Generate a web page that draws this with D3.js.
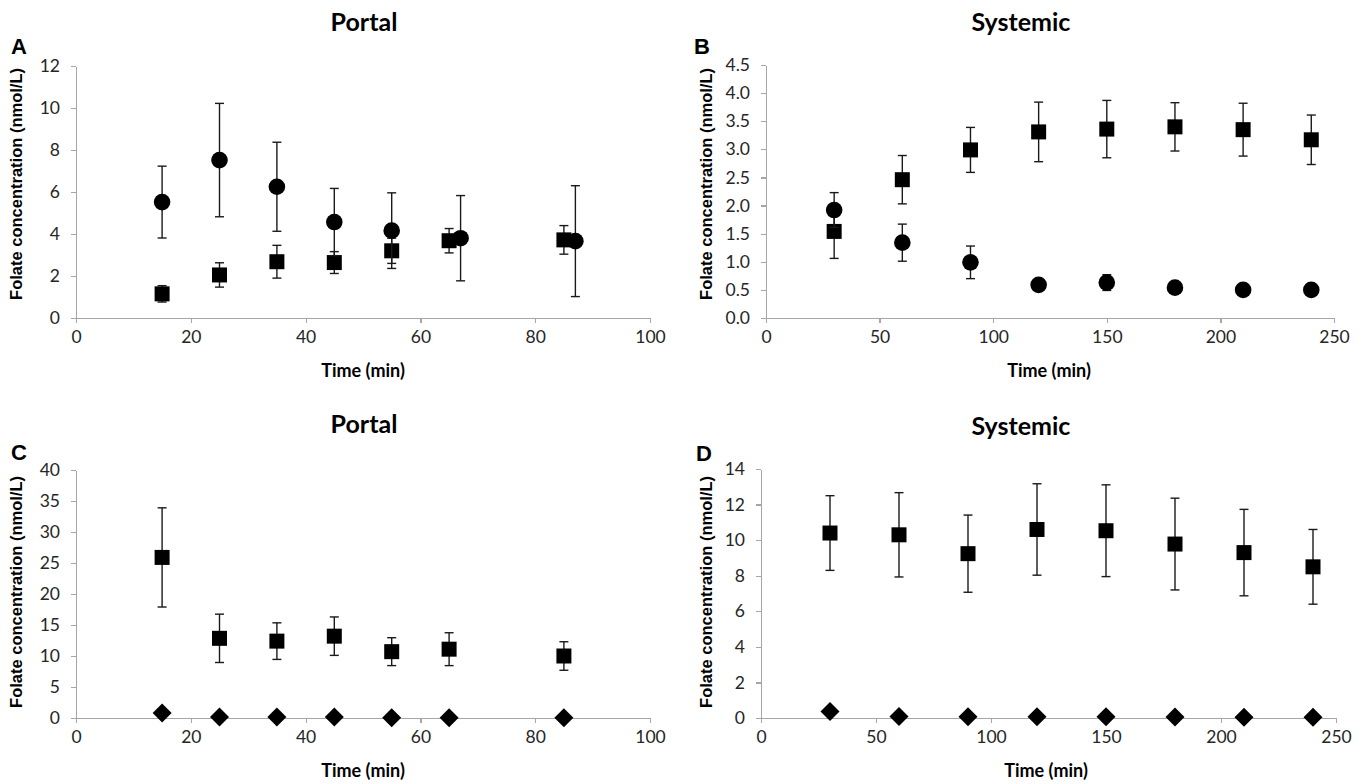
<!DOCTYPE html>
<html>
<head>
<meta charset="utf-8">
<script src="https://cdn.jsdelivr.net/npm/d3@7"></script>
<style>
  html, body { margin: 0; padding: 0; background: #fff; }
  svg { display: block; }
  .tick text { font-family: Lato, "Open Sans", sans-serif; font-size: 17.5px; fill: #262626; }
  .axis path, .axis line { stroke: #a6a6a6; stroke-width: 1.2px; shape-rendering: crispEdges; }
</style>
</head>
<body>
<svg id="chart" width="1366" height="784"></svg>
<script>
// ---------------- DATA ----------------
// Panel A (Portal): circles and squares
const aCircleTime = [15, 25, 35, 45, 55, 67, 87];
const aCircleMean = [5.52, 7.52, 6.25, 4.57, 4.16, 3.80, 3.66];
const aCircleErr  = [1.71, 2.70, 2.12, 1.60, 1.80, 2.03, 2.64];
const aSquareTime = [15, 25, 35, 45, 55, 65, 85];
const aSquareMean = [1.15, 2.05, 2.68, 2.64, 3.20, 3.68, 3.72];
const aSquareErr  = [0.39, 0.58, 0.78, 0.52, 0.60, 0.58, 0.68];

// Panel B (Systemic): circles and squares
const bTime       = [30, 60, 90, 120, 150, 180, 210, 240];
const bCircleMean = [1.92, 1.34, 0.99, 0.59, 0.63, 0.54, 0.50, 0.50];
const bCircleErr  = [0.31, 0.33, 0.29, 0.08, 0.14, 0.06, 0.04, 0.05];
const bSquareMean = [1.54, 2.46, 2.99, 3.31, 3.36, 3.40, 3.35, 3.17];
const bSquareErr  = [0.48, 0.43, 0.40, 0.53, 0.51, 0.43, 0.47, 0.44];

// Panel C (Portal): squares and diamonds
const cTime        = [15, 25, 35, 45, 55, 65, 85];
const cSquareMean  = [25.9, 12.85, 12.4, 13.2, 10.7, 11.1, 10.0];
const cSquareErr   = [8.0, 3.9, 2.95, 3.1, 2.25, 2.65, 2.3];
const cDiamondMean = [0.80, 0.18, 0.18, 0.15, 0.05, 0.05, 0.05];

// Panel D (Systemic): squares and diamonds
const dTime        = [30, 60, 90, 120, 150, 180, 210, 240];
const dSquareMean  = [10.4, 10.3, 9.24, 10.6, 10.53, 9.78, 9.3, 8.5];
const dSquareErr   = [2.1, 2.37, 2.17, 2.57, 2.58, 2.58, 2.43, 2.1];
const dDiamondMean = [0.36, 0.08, 0.07, 0.07, 0.07, 0.05, 0.04, 0.04];

// Axis ticks
const xTicksPortal   = [0, 20, 40, 60, 80, 100];
const xTicksSystemic = [0, 50, 100, 150, 200, 250];
const yTicksA = [0, 2, 4, 6, 8, 10, 12];
const yTicksB = [0, 0.5, 1.0, 1.5, 2.0, 2.5, 3.0, 3.5, 4.0, 4.5];
const yTicksC = [0, 5, 10, 15, 20, 25, 30, 35, 40];
const yTicksD = [0, 2, 4, 6, 8, 10, 12, 14];

const panelTitles = ["Portal", "Systemic", "Portal", "Systemic"];
const panelLetters = ["A", "B", "C", "D"];
const yAxisTitle = "Folate concentration (nmol/L)";
const xAxisTitle = "Time (min)";

// ---------------- DRAWING ----------------
const svg = d3.select("#chart");

const zip = (t, m, e) => t.map((d, i) => ({ t: d, m: m[i], e: e ? e[i] : 0 }));

const diamondType = {
  draw(ctx, size) {
    const r = Math.sqrt(size / 2);
    ctx.moveTo(0, -r); ctx.lineTo(r, 0); ctx.lineTo(0, r); ctx.lineTo(-r, 0); ctx.closePath();
  }
};

const panels = [
  { x0: 76, x1: 650, y0: 318, y1: 66, xMax: 100, yMax: 12, xTicks: xTicksPortal, yTicks: yTicksA, yFmt: d3.format("d"),
    title: { x: 364, y: 31 }, letter: { x: 11, y: 54 }, yTitle: { x: 16, y: 184 }, xTitle: { x: 363, y: 377 },
    series: [ { data: zip(aSquareTime, aSquareMean, aSquareErr), shape: "square" },
              { data: zip(aCircleTime, aCircleMean, aCircleErr), shape: "circle" } ] },
  { x0: 766, x1: 1334, y0: 318, y1: 65, xMax: 250, yMax: 4.5, xTicks: xTicksSystemic, yTicks: yTicksB, yFmt: d3.format(".1f"),
    title: { x: 1021, y: 31 }, letter: { x: 694, y: 54 }, yTitle: { x: 706, y: 184 }, xTitle: { x: 1049, y: 377 },
    series: [ { data: zip(bTime, bSquareMean, bSquareErr), shape: "square" },
              { data: zip(bTime, bCircleMean, bCircleErr), shape: "circle" } ] },
  { x0: 76, x1: 650, y0: 718, y1: 470, xMax: 100, yMax: 40, xTicks: xTicksPortal, yTicks: yTicksC, yFmt: d3.format("d"),
    title: { x: 364, y: 433 }, letter: { x: 11, y: 460 }, yTitle: { x: 16, y: 592 }, xTitle: { x: 363, y: 777 },
    series: [ { data: zip(cTime, cSquareMean, cSquareErr), shape: "square" },
              { data: zip(cTime, cDiamondMean, null), shape: "diamond" } ] },
  { x0: 761, x1: 1336, y0: 718, y1: 469, xMax: 250, yMax: 14, xTicks: xTicksSystemic, yTicks: yTicksD, yFmt: d3.format("d"),
    title: { x: 1021, y: 435 }, letter: { x: 696, y: 461 }, yTitle: { x: 706, y: 592 }, xTitle: { x: 1046, y: 777 },
    series: [ { data: zip(dTime, dSquareMean, dSquareErr), shape: "square" },
              { data: zip(dTime, dDiamondMean, null), shape: "diamond" } ] }
];

panels.forEach((p, pi) => {
  const x = d3.scaleLinear().domain([0, p.xMax]).range([p.x0, p.x1]);
  const y = d3.scaleLinear().domain([0, p.yMax]).range([p.y0, p.y1]);
  const g = svg.append("g");

  // Axes
  g.append("g").attr("class", "axis")
    .attr("transform", `translate(0,${p.y0})`)
    .call(d3.axisBottom(x).tickValues(p.xTicks).tickSize(5).tickSizeOuter(0).tickPadding(8).tickFormat(d3.format("d")))
    .call(s => s.selectAll(".tick text").attr("dy", "0.71em"));
  g.append("g").attr("class", "axis")
    .attr("transform", `translate(${p.x0},0)`)
    .call(d3.axisLeft(y).tickValues(p.yTicks).tickSize(5).tickSizeOuter(0).tickPadding(11).tickFormat(p.yFmt));
  g.selectAll(".axis").attr("font-family", null).attr("font-size", null);

  // Series
  p.series.forEach(s => {
    const sg = g.append("g");
    const withErr = s.data.filter(d => d.e > 0);
    const eb = sg.selectAll("g.err").data(withErr).join("g").attr("class", "err")
      .attr("stroke", "#1a1a1a").attr("stroke-width", 1.4);
    eb.append("line").attr("x1", d => x(d.t)).attr("x2", d => x(d.t))
      .attr("y1", d => y(d.m - d.e)).attr("y2", d => y(d.m + d.e));
    eb.append("line").attr("x1", d => x(d.t) - 4.5).attr("x2", d => x(d.t) + 4.5)
      .attr("y1", d => y(d.m + d.e)).attr("y2", d => y(d.m + d.e));
    eb.append("line").attr("x1", d => x(d.t) - 4.5).attr("x2", d => x(d.t) + 4.5)
      .attr("y1", d => y(d.m - d.e)).attr("y2", d => y(d.m - d.e));

    let sym;
    if (s.shape === "circle") sym = d3.symbol().type(d3.symbolCircle).size(Math.PI * 8.3 * 8.3);
    else if (s.shape === "square") sym = d3.symbol().type(d3.symbolSquare).size(15 * 15);
    else sym = d3.symbol().type(diamondType).size(2 * 9.5 * 9.5);
    sg.selectAll("path.mk").data(s.data).join("path").attr("class", "mk")
      .attr("d", sym).attr("fill", "#000")
      .attr("transform", d => `translate(${x(d.t)},${y(d.m)})`);
  });

  // Texts
  svg.append("text").attr("x", p.title.x).attr("y", p.title.y)
    .attr("text-anchor", "middle").attr("font-family", "Lato, sans-serif").attr("font-weight", "bold")
    .attr("font-size", 25).attr("fill", "#000").text(panelTitles[pi]);
  svg.append("text").attr("x", p.letter.x).attr("y", p.letter.y)
    .attr("font-family", "'Liberation Sans', Arial, sans-serif").attr("font-weight", "bold")
    .attr("font-size", 22).attr("fill", "#000").text(panelLetters[pi]);
  svg.append("text").attr("transform", `translate(${p.yTitle.x},${p.yTitle.y}) rotate(-90)`)
    .attr("text-anchor", "middle").attr("dominant-baseline", "central")
    .attr("font-family", "'Liberation Sans', Arial, sans-serif").attr("font-weight", "bold")
    .attr("font-size", 16.5).attr("fill", "#000").text(yAxisTitle);
  svg.append("text").attr("x", p.xTitle.x).attr("y", p.xTitle.y)
    .attr("text-anchor", "middle").attr("font-family", "Lato, sans-serif").attr("font-weight", "bold")
    .attr("font-size", 18).attr("fill", "#000").text(xAxisTitle);
});
</script>
</body>
</html>
